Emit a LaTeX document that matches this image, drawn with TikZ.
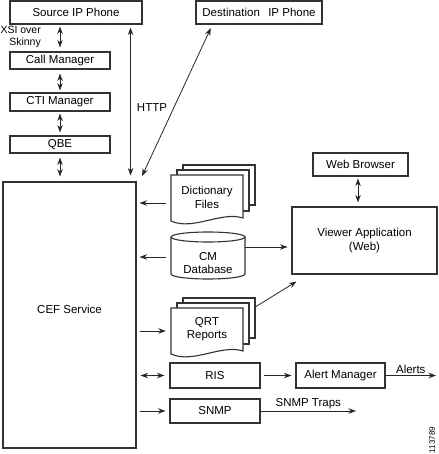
\documentclass[tikz,border=0pt]{standalone}
\usepackage{fontspec}
\setmainfont{Liberation Sans}
\usetikzlibrary{arrows.meta,calc}
\begin{document}
\begin{tikzpicture}[x=1pt,y=-1pt,
  font=\fontsize{11.5}{13.5}\selectfont,
  box/.style={draw=black!80,line width=1.1pt,fill=white,inner sep=0pt,align=center},
  conn/.style={draw=black!85,line width=0.8pt},
  >={Stealth[length=7.5pt,width=5.5pt]},
  docshape/.style={draw=black!80,line width=1.1pt,fill=white},
  lbl/.style={inner sep=1pt},
  docstack/.pic={
    \path[docshape] (12,-10) rectangle (84,30);
    \path[docshape] (6,-5) rectangle (78,36);
    \path[docshape] (0,0) -- (72,0) -- (72,43) .. controls (50,36) and (22,56) .. (0,46) -- cycle;
  }]
\useasboundingbox (0,0) rectangle (438,454);

% left column
\node[box,minimum width=132pt,minimum height=23pt] (src) at (76,12.5) {Source IP Phone};
\node[box,minimum width=126pt,minimum height=23pt] (dst) at (259,12.5) {Destination\hspace{0.45em} IP Phone};
\node[box,minimum width=100pt,minimum height=17pt] (call) at (60,60.5) {Call Manager};
\node[box,minimum width=100pt,minimum height=18pt] (cti) at (60,102) {CTI Manager};
\node[box,minimum width=100pt,minimum height=17pt] (qbe) at (60,144.5) {QBE};
\node[box,minimum width=133pt,minimum height=266pt] (cef) at (69.5,315) {\raisebox{6pt}[\height][\depth]{CEF Service}};

\node[lbl,align=right,anchor=east,font=\fontsize{10.5}{11.5}\selectfont] (xsi) at (42,37) {XSI over\\Skinny};

\draw[conn,<->,shorten <=2pt,shorten >=4pt] (call.north |- src.south) -- (call.north);
\draw[conn,<->,shorten <=4pt,shorten >=2pt] (call.south) -- (cti.north);
\draw[conn,<->,shorten <=2pt,shorten >=3pt] (cti.south) -- (qbe.north);
\draw[conn,<->,shorten <=4pt,shorten >=5pt] (qbe.south) -- (qbe.south |- cef.north);

\draw[conn,<->,shorten <=3pt,shorten >=6pt] ([xshift=-12pt]src.south east) -- ([xshift=-6pt]cef.north east);
\draw[conn,<->,shorten <=4pt,shorten >=6pt] ([xshift=17pt]dst.south west) -- ([xshift=3pt]cef.north east);
\node[lbl] (http) at (152,108) {HTTP};

% documents and database
\pic at (171,175) {docstack};
\node[inner sep=0pt,minimum width=72pt,align=center] (dict) at (207,197.5) {Dictionary\\Files};

\draw[docshape] (171,237) -- (171,274) arc[start angle=180,end angle=0,x radius=37,y radius=5] -- (245,237);
\draw[docshape] (208,237) ellipse[x radius=37,y radius=5];
\node[inner sep=0pt,minimum width=74pt,align=center] (cm) at (208,263) {CM\\Database};

\pic at (171,308) {docstack};
\node[inner sep=0pt,minimum width=72pt,align=center] (qrt) at (207,329) {QRT\\Reports};

% viewer side
\node[box,minimum width=145pt,minimum height=67pt] (viewer) at (364.5,240.5) {Viewer Application\\(Web)};
\node[box,minimum width=95pt,minimum height=23pt] (wb) at (360.5,164.5) {Web Browser};
\draw[conn,<->,shorten <=2pt,shorten >=4pt] ([xshift=-2.5pt]wb.south) -- ([xshift=-2.5pt]wb.south |- viewer.north);

\draw[conn,->,shorten <=5pt,shorten >=3pt] ([yshift=-5.5pt]dict.west) -- ([yshift=-5.5pt]dict.west -| cef.east);
\draw[conn,->,shorten <=5pt,shorten >=3pt] ([yshift=6pt]cm.west) -- ([yshift=6pt]cm.west -| cef.east);
\draw[conn,->,shorten >=4pt] ([yshift=16pt]cm.east) -- ([yshift=16pt]cm.east -| viewer.west);
\draw[conn,->,shorten <=3pt,shorten >=5pt] ([yshift=-2pt]qrt.west -| cef.east) -- ([yshift=-2pt]qrt.west);
\draw[conn,->] ([xshift=12pt,yshift=22pt]qrt.east) -- ([xshift=5pt,yshift=-7pt]viewer.south west);

% bottom row
\node[box,minimum width=90pt,minimum height=25pt] (ris) at (215,375.5) {RIS};
\node[box,minimum width=89pt,minimum height=25pt] (alert) at (340.5,375.5) {Alert Manager};
\node[box,minimum width=90pt,minimum height=24pt] (snmp) at (215,411) {SNMP};
\coordinate (alertsend) at (436,375.5);
\coordinate (trapsend) at (356,411);

\draw[conn,<->,shorten <=4pt,shorten >=5pt] (ris.west -| cef.east) -- (ris.west);
\draw[conn,->,shorten <=3pt,shorten >=4pt] (ris.east) -- (alert.west);
\draw[conn,->] (alert.east) -- (alertsend) node[midway,above,inner sep=1.5pt] {Alerts};
\draw[conn,->,shorten <=3pt,shorten >=4pt] (snmp.west -| cef.east) -- (snmp.west);
\draw[conn,->] (snmp.east) -- (trapsend) node[midway,above,inner sep=1.5pt] {SNMP Traps};

\node[rotate=90,inner sep=0pt,font=\fontsize{8}{9}\selectfont] (fig) at (432,440) {113789};
\end{tikzpicture}
\end{document}
